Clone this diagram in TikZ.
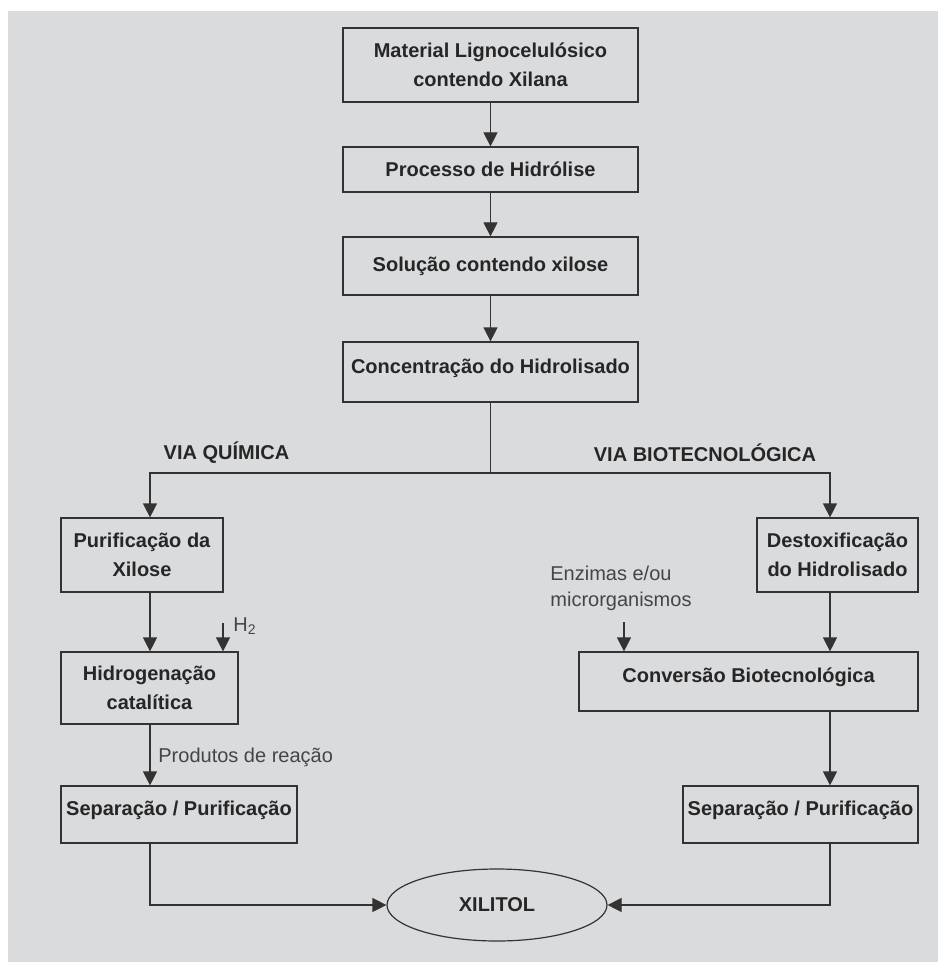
\documentclass[tikz,border=0pt]{standalone}
\usepackage{fontspec}
\setmainfont{Liberation Sans}
\usepackage{tikz}
\usetikzlibrary{positioning}
\usetikzlibrary{arrows.meta}
\usetikzlibrary{shapes.geometric}

\definecolor{bggray}{HTML}{DADBDD}
\definecolor{linegray}{HTML}{333333}
\definecolor{txtgray}{HTML}{454545}

\begin{document}
\begin{tikzpicture}[x=0.5pt,y=-0.5pt,
    box/.style={draw=linegray,line width=0.6pt,align=center,inner sep=0pt,
      font=\bfseries\fontsize{10}{14.5}\selectfont,text=black!85},
    hibox/.style={box,text depth=6pt},
    lbl/.style={font=\fontsize{10}{13}\selectfont,text=txtgray,inner sep=0pt},
    head/.style={font=\bfseries\fontsize{10}{12}\selectfont,text=black!85,inner sep=0pt},
    arr/.style={draw=linegray,line width=0.6pt,-{Triangle[width=7pt,length=7pt]}},
    conn/.style={draw=linegray,line width=0.6pt}]

  \useasboundingbox (0,0) rectangle (938,962);
  \fill[white] (0,0) rectangle (938,962);
  \fill[bggray] (8,11) rectangle (938,962);

  % Tronco comum
  \node[box,minimum width=147.5pt,minimum height=37pt] (mat) at (490.5,65) {Material Lignocelulósico\\contendo Xilana};
  \node[box,minimum width=147.5pt,minimum height=22.5pt] (hid) at (490.5,169.5) {Processo de Hidrólise};
  \node[box,minimum width=147.5pt,minimum height=29pt] (sol) at (490.5,266) {Solução contendo xilose};
  \node[hibox,minimum width=147.5pt,minimum height=30pt] (con) at (490.5,372) {Concentração do Hidrolisado};

  \draw[arr] (mat) -- (hid);
  \draw[arr] (hid) -- (sol);
  \draw[arr] (sol) -- (con);

  % Bifurcacao
  \coordinate (split) at (490.5,473);
  \coordinate (lq) at (150,473);
  \coordinate (rb) at (830,473);
  \node[head] (viaq) at (226.5,453) {VIA QUÍMICA};
  \node[head] (viab) at (705,453) {VIA BIOTECNOLÓGICA};

  % Via quimica
  \node[box,minimum width=81pt,minimum height=37pt] (pur) at (142,555) {Purificação da\\Xilose};
  \node[box,minimum width=88.5pt,minimum height=36pt] (hcat) at (149.5,688) {Hidrogenação\\catalítica};
  \node[hibox,minimum width=118pt,minimum height=28.5pt] (sepq) at (179,814.5) {Separação / Purificação};
  \coordinate (h2top) at (223,623);
  \node[lbl,anchor=west] (h2) at (233,626) {H\textsubscript{2}};
  \node[lbl,anchor=west] (prod) at (158,757) {Produtos de reação};

  % Via biotecnologica
  \node[box,minimum width=80.5pt,minimum height=37pt] (dest) at (837.5,555) {Destoxificação\\do Hidrolisado};
  \node[hibox,minimum width=169.5pt,minimum height=29.5pt] (conv) at (748.5,681.5) {Conversão Biotecnológica};
  \node[hibox,minimum width=117.5pt,minimum height=28.5pt] (sepb) at (800.5,814.5) {Separação / Purificação};
  \node[lbl,anchor=north west,align=left] (enz) at (550,566) {Enzimas e/ou\\microrganismos};
  \coordinate (enztop) at (624,622);

  % Produto final
  \node[draw=linegray,line width=0.6pt,ellipse,minimum width=110pt,minimum height=36pt,inner sep=0pt,
    font=\bfseries\fontsize{10}{12}\selectfont,text=black!85] (xil) at (497,905) {XILITOL};

  % Conectores
  \draw[conn] (con) -- (split);
  \draw[arr] (split) -- (lq) -- (lq |- pur.north);
  \draw[arr] (split) -- (rb) -- (rb |- dest.north);
  \draw[arr] (pur.south -| lq) -- (hcat.north -| lq);
  \draw[arr] (h2top) -- (h2top |- hcat.north);
  \draw[arr] (hcat.south -| lq) -- (sepq.north -| lq);
  \draw[arr] (sepq.south -| lq) |- (xil.west);
  \draw[arr] (dest.south -| rb) -- (conv.north -| rb);
  \draw[arr] (enztop) -- (enztop |- conv.north);
  \draw[arr] (conv.south -| rb) -- (sepb.north -| rb);
  \draw[arr] (sepb.south -| rb) |- (xil.east);
\end{tikzpicture}
\end{document}
